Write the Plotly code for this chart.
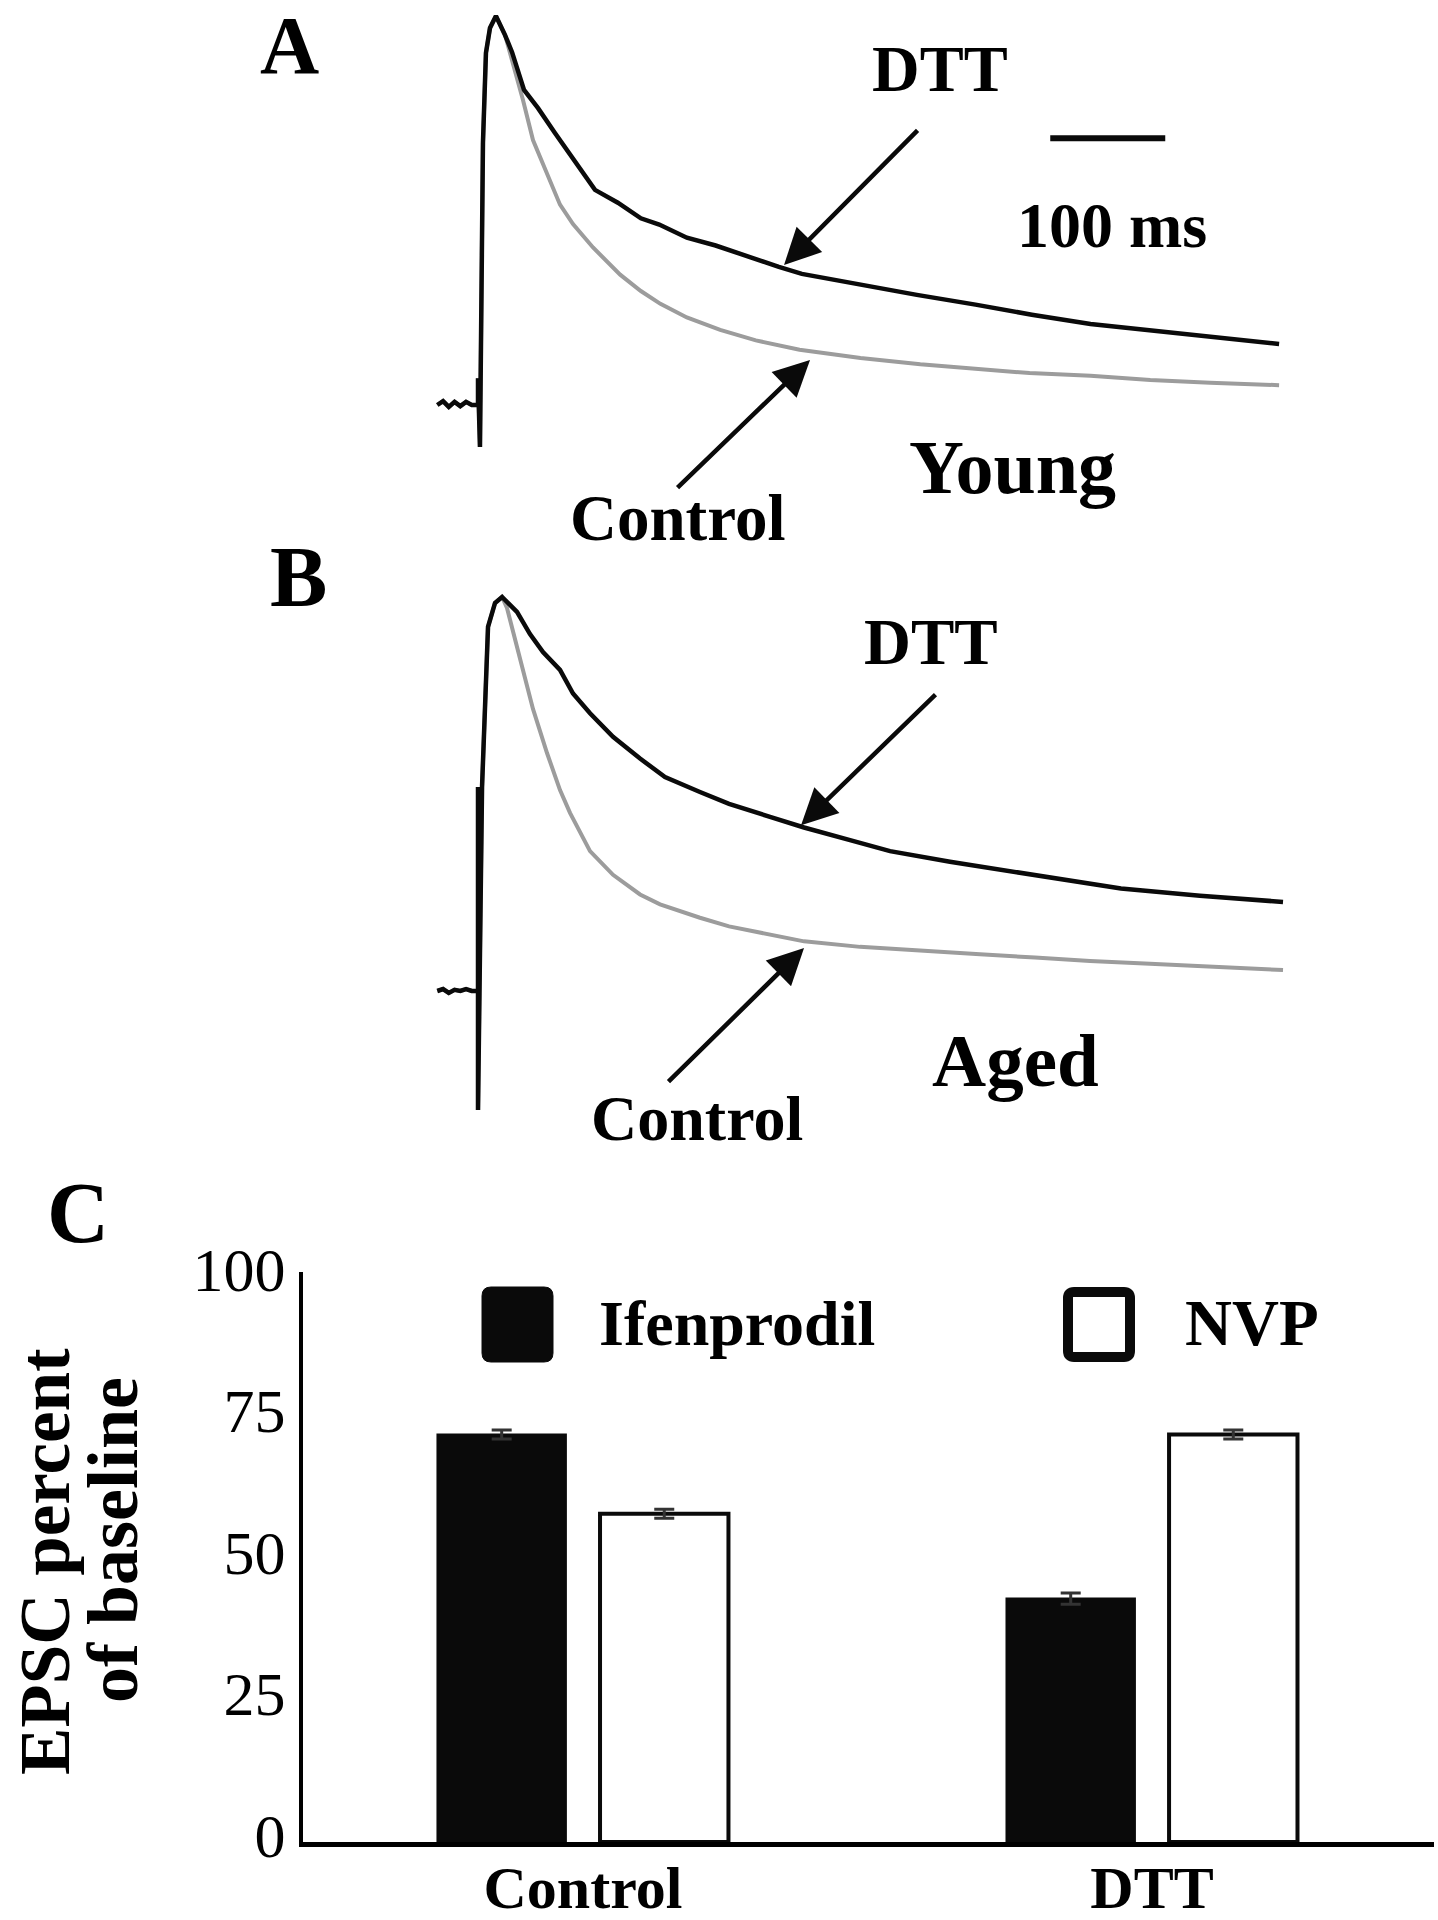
import plotly.graph_objects as go

W, H = 1438, 1920
FONT = "Liberation Serif"

# ---------------- Panel A (Young) ----------------
stim_t_A = [-38, -33, -28, -23, -18, -13, -8, -4.3, -2.6, -2.6, -0.9, 1.7, 4.3, 7.8]
stim_y_A = [0, 1.0, -0.5, 0.8, -0.3, 0.8, 0, 0, 0, 6.9, -10.8, 67.4, 90.5, 96.9]
young_dtt_t = [13, 20.9, 27, 37.4, 49.6, 64.3, 79.1, 99.1, 119, 139, 155, 179, 204, 230,
               259, 279, 330, 379, 430, 479, 530, 579, 630, 694]
young_dtt_y = [100, 95.1, 90.7, 81.0, 76.3, 69.9, 63.5, 55.3, 52.0, 48.0, 46.4, 43.0, 41.0,
               38.3, 35.5, 33.7, 30.8, 28.3, 25.8, 23.2, 20.8, 19.3, 17.8, 15.7]
young_ctl_t = [13, 20.9, 27, 36.5, 45.2, 57.4, 68.7, 80, 97.4, 121, 139, 156, 179, 208,
               239, 277, 330, 382, 430, 477, 530, 582, 634, 694]
young_ctl_y = [100, 95.1, 88.7, 78.4, 68.1, 59.6, 51.5, 46.5, 40.5, 33.5, 29.3, 26.0, 22.5,
               19.3, 16.6, 14.2, 12.1, 10.5, 9.3, 8.2, 7.5, 6.4, 5.7, 5.1]

# ---------------- Panel B (Aged) ----------------
stim_t_B = [-38, -33, -28, -23, -18, -13, -8, -2.6, -2.6, -2.6, 0.9, 6.1, 12.2]
stim_y_B = [0, 0.5, -0.5, 0.3, 0, 0.5, 0, 0, 51.8, -30.2, 51.8, 92.4, 98.5]
aged_dtt_t = [18.3, 25.2, 31.3, 42.6, 53.9, 68.7, 80.0, 94.8, 114.8, 138.3, 160.0, 190.4,
              215.7, 251.3, 280.9, 320.9, 355.7, 407.8, 456.5, 503.5, 556.5, 625.2, 697.4]
aged_dtt_y = [100, 98.0, 96.2, 90.6, 86.0, 81.5, 75.5, 70.5, 64.5, 59.0, 54.3, 50.5, 47.5,
              44.2, 41.5, 38.3, 35.5, 32.8, 30.5, 28.3, 26.0, 24.2, 22.6]
aged_ctl_t = [18.3, 22.6, 33.9, 45.2, 57.4, 68.7, 77.4, 94.8, 114.8, 138.3, 155.7, 190.4,
              215.7, 251.3, 280.9, 329.6, 380.9, 433.9, 481.7, 529.6, 581.7, 633.9, 697.4]
aged_ctl_y = [100, 97.2, 84.0, 71.6, 60.4, 51.0, 45.2, 35.5, 29.5, 24.5, 22.0, 18.6, 16.4,
              14.3, 12.6, 11.2, 10.2, 9.3, 8.5, 7.6, 6.9, 6.1, 5.3]

scalebar_t = [495, 595]          # 100 ms
scalebar_y = [68.6, 68.6]

# arrows: (head_t, head_y, tail_t, tail_y)
arrows_A = {"DTT": (263.5, 36.0, 380.9, 71.0), "Control": (286.1, 11.6, 169.6, -21.6)}
arrows_B = {"DTT": (278.3, 42.1, 396.5, 75.6), "Control": (280.9, 10.9, 161.7, -23.4)}

# ---------------- Panel C (bars) ----------------
groups = ["Control", "DTT"]
ifenprodil = [72, 43]
ifenprodil_err = [0.8, 1.0]
nvp = [58, 72]
nvp_err = [0.8, 0.8]
y_ticks = [0, 25, 50, 75, 100]


def px(x):
    return x / W


def py(y):
    return 1 - y / H


fig = go.Figure()

BLACK = "#0a0a0a"
GRAY = "#9c9c9c"

# Panel A traces
fig.add_trace(go.Scatter(x=stim_t_A + young_ctl_t, y=stim_y_A + young_ctl_y, mode="lines",
                         line=dict(color=GRAY, width=4), xaxis="x", yaxis="y", showlegend=False))
fig.add_trace(go.Scatter(x=stim_t_A + young_dtt_t, y=stim_y_A + young_dtt_y, mode="lines",
                         line=dict(color=BLACK, width=4.5), xaxis="x", yaxis="y", showlegend=False))
fig.add_trace(go.Scatter(x=scalebar_t, y=scalebar_y, mode="lines",
                         line=dict(color=BLACK, width=6), xaxis="x", yaxis="y", showlegend=False))

# Panel B traces
fig.add_trace(go.Scatter(x=stim_t_B + aged_ctl_t, y=stim_y_B + aged_ctl_y, mode="lines",
                         line=dict(color=GRAY, width=4), xaxis="x2", yaxis="y2", showlegend=False))
fig.add_trace(go.Scatter(x=stim_t_B + aged_dtt_t, y=stim_y_B + aged_dtt_y, mode="lines",
                         line=dict(color=BLACK, width=4.5), xaxis="x2", yaxis="y2", showlegend=False))

# Panel C bars
fig.add_trace(go.Bar(x=groups, y=ifenprodil, name="Ifenprodil", xaxis="x3", yaxis="y3",
                     marker=dict(color=BLACK, line=dict(color=BLACK, width=2)),
                     error_y=dict(type="data", array=ifenprodil_err, color="#333", thickness=3, width=10),
                     showlegend=False))
fig.add_trace(go.Bar(x=groups, y=nvp, name="NVP", xaxis="x3", yaxis="y3",
                     marker=dict(color="white", line=dict(color=BLACK, width=4)),
                     error_y=dict(type="data", array=nvp_err, color="#333", thickness=3, width=10),
                     showlegend=False))

hidden = dict(visible=False, showgrid=False, zeroline=False, automargin=False)
trace_xrange = [(430 - 481) / 1.15, (1290 - 481) / 1.15]

fig.update_layout(
    width=W, height=H, margin=dict(l=0, r=0, t=0, b=0, autoexpand=False),
    paper_bgcolor="white", plot_bgcolor="rgba(0,0,0,0)",
    font=dict(family=FONT, color="black"),
    barmode="group", bargap=0.4286, bargroupgap=0.21,
    xaxis=dict(domain=[px(430), px(1290)], range=trace_xrange, anchor="y", **hidden),
    yaxis=dict(domain=[py(500), py(10)], range=[(405 - 500) / 3.89, (405 - 10) / 3.89],
               anchor="x", **hidden),
    xaxis2=dict(domain=[px(430), px(1290)], range=trace_xrange, anchor="y2", **hidden),
    yaxis2=dict(domain=[py(1125), py(560)], range=[(991 - 1125) / 3.94, (991 - 560) / 3.94],
                anchor="x2", **hidden),
    xaxis3=dict(domain=[px(303), px(1434)], range=[-0.492, 1.4956], type="category",
                anchor="y3", automargin=False,
                showline=True, linecolor="black", linewidth=5, showgrid=False, zeroline=False,
                ticks="", tickfont=dict(family=FONT, size=60, weight="bold"),
                ticklabelstandoff=-11),
    yaxis3=dict(domain=[py(1842), py(1272)], range=[0, 100.7], anchor="x3", automargin=False,
                showline=True, linecolor="black", linewidth=4, showgrid=False, zeroline=False,
                ticks="", tickvals=y_ticks, ticktext=[str(v) for v in y_ticks],
                tickfont=dict(family=FONT, size=62), ticklabelstandoff=1, ticklabelshift=-7),
)

ann = []


def label(text, x, y, size, bold=True, xanchor="center", angle=0):
    ann.append(dict(text=text, x=px(x), y=py(y), xref="paper", yref="paper",
                    xanchor=xanchor, yanchor="middle", showarrow=False, textangle=angle,
                    font=dict(family=FONT, size=size, color="black", weight="bold" if bold else "normal")))


def arrow(head, xr, yr):
    ht, hy, tt, ty = head
    ann.append(dict(x=ht, y=hy, ax=tt, ay=ty, xref=xr, yref=yr, axref=xr, ayref=yr,
                    text="", showarrow=True, arrowhead=2, arrowsize=1.6, arrowwidth=4.5,
                    arrowcolor=BLACK))


# Panel letters
label("A", 289, 45, 82)
label("B", 298, 577, 86)
label("C", 78, 1213, 86)

# Panel A texts
label("DTT", 940, 69, 66)
label("100 ms", 1112, 225, 64)
label("Young", 1012, 467, 76)
label("Control", 677, 518, 65)
arrow(arrows_A["DTT"], "x", "y")
arrow(arrows_A["Control"], "x", "y")

# Panel B texts
label("DTT", 931, 642, 65)
label("Aged", 1015, 1060, 75)
label("Control", 697, 1118, 64)
arrow(arrows_B["DTT"], "x2", "y2")
arrow(arrows_B["Control"], "x2", "y2")

# Panel C legend texts and y title
label("Ifenprodil", 597, 1323, 64, xanchor="left")
label("NVP", 1183, 1323, 65, xanchor="left")
label("EPSC percent", 45, 1562, 71, angle=-90)
label("of baseline", 113, 1540, 72, angle=-90)

fig.update_layout(annotations=ann)


def rounded_rect(x0, y0, x1, y1, r):
    X0, X1 = px(x0), px(x1)
    Y0, Y1 = py(y0), py(y1)
    rx, ry = r / W, r / H
    return (f"M {X0 + rx},{Y0} L {X1 - rx},{Y0} Q {X1},{Y0} {X1},{Y0 - ry} "
            f"L {X1},{Y1 + ry} Q {X1},{Y1} {X1 - rx},{Y1} L {X0 + rx},{Y1} "
            f"Q {X0},{Y1} {X0},{Y1 + ry} L {X0},{Y0 - ry} Q {X0},{Y0} {X0 + rx},{Y0} Z")


fig.add_shape(type="path", xref="paper", yref="paper", path=rounded_rect(482, 1287, 553, 1362, 9),
              fillcolor=BLACK, line=dict(color=BLACK, width=1))
fig.add_shape(type="path", xref="paper", yref="paper", path=rounded_rect(1068, 1292, 1130, 1357, 6),
              fillcolor="white", line=dict(color=BLACK, width=10))

fig.write_html("out.html", config={"displayModeBar": False},
               post_script="document.body.style.margin='0';document.body.style.overflow='hidden';")
